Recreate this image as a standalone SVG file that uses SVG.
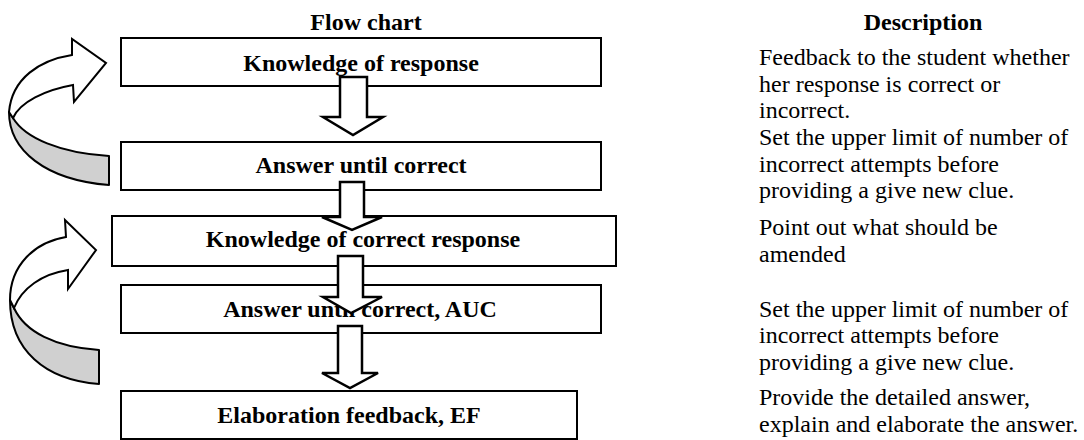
<svg xmlns="http://www.w3.org/2000/svg" width="1084" height="440" viewBox="0 0 1084 440">
<style>
.box{fill:#fff;stroke:#000;stroke-width:2}
.lbl{font-family:"Liberation Serif","Times New Roman",serif;font-weight:bold;font-size:24px;text-anchor:middle;fill:#000}
.hdr{font-family:"Liberation Serif","Times New Roman",serif;font-weight:bold;font-size:24px;text-anchor:middle;fill:#000}
.desc{font-family:"Liberation Serif","Times New Roman",serif;font-size:24px;fill:#000}
.arr{fill:#fff;stroke:#000;stroke-width:2.5;stroke-linejoin:miter}
.band{fill:#d0d0d0;stroke:#000;stroke-width:2;stroke-linejoin:round}
.front{fill:#fff;stroke:#000;stroke-width:2;stroke-linejoin:miter}
</style>
<rect width="1084" height="440" fill="#fff"/>
<g id="headers">
<text class="hdr" x="366" y="30">Flow chart</text>
<text class="hdr" x="923" y="30">Description</text>
</g>
<g id="node-kor">
<rect class="box" x="121" y="38" width="480" height="48"/>
<text class="lbl" x="361" y="71">Knowledge of response</text>
</g>
<g id="node-auc1">
<rect class="box" x="121" y="142" width="480" height="48"/>
<text class="lbl" x="361" y="173">Answer until correct</text>
</g>
<g id="node-kcr">
<rect class="box" x="112" y="216" width="504" height="50"/>
<text class="lbl" x="363" y="247">Knowledge of correct response</text>
</g>
<g id="node-auc2">
<rect class="box" x="121" y="285" width="480" height="48"/>
<text class="lbl" x="360" y="317">Answer until correct, AUC</text>
</g>
<g id="node-ef">
<rect class="box" x="121" y="391" width="456" height="48"/>
<text class="lbl" x="349" y="423">Elaboration feedback, EF</text>
</g>
<g id="description">
<text class="desc" x="759" y="65">Feedback to the student whether</text>
<text class="desc" x="759" y="92">her response is correct or</text>
<text class="desc" x="759" y="118">incorrect.</text>
<text class="desc" x="759" y="145">Set the upper limit of number of</text>
<text class="desc" x="759" y="172">incorrect attempts before</text>
<text class="desc" x="759" y="198">providing a give new clue.</text>
<text class="desc" x="759" y="235">Point out what should be</text>
<text class="desc" x="759" y="262">amended</text>
<text class="desc" x="759" y="317">Set the upper limit of number of</text>
<text class="desc" x="759" y="343">incorrect attempts before</text>
<text class="desc" x="759" y="370">providing a give new clue.</text>
<text class="desc" x="759" y="405">Provide the detailed answer,</text>
<text class="desc" x="759" y="432">explain and elaborate the answer.</text>
</g>
<g id="connectors">
<polygon class="arr" points="340,77 367,77 367,117 383,117 353,135 323,117 340,117"/>
<polygon class="arr" points="340,182 364,182 364,217 382,217 352,230 322,217 340,217"/>
<polygon class="arr" points="338,256 363,256 363,297 382,297 351,313 323,297 338,297"/>
<polygon class="arr" points="338,326 362,326 362,373 378,373 350,388 322,373 338,373"/>
<g id="loop1">
<path class="band" d="M9,112 C9,150 45,180 109,185 L109,156 C60,153 25,138 13,118 Z"/>
<path class="front" d="M13,118 C20,102 45,90 73,85 L74,102 L106,63 L72,39 L72,55 C40,60 12,78 9,112 Z"/>
</g>
<g id="loop2">
<path class="band" d="M10,300 C10,350 45,380 99,384 L99,350 C55,347 25,332 14,308 Z"/>
<path class="front" d="M14,308 C22,288 42,274 68,270 L68,289 L96,250 L65,220 L66,237 C35,242 10,265 10,300 Z"/>
</g>
</g>
</svg>
